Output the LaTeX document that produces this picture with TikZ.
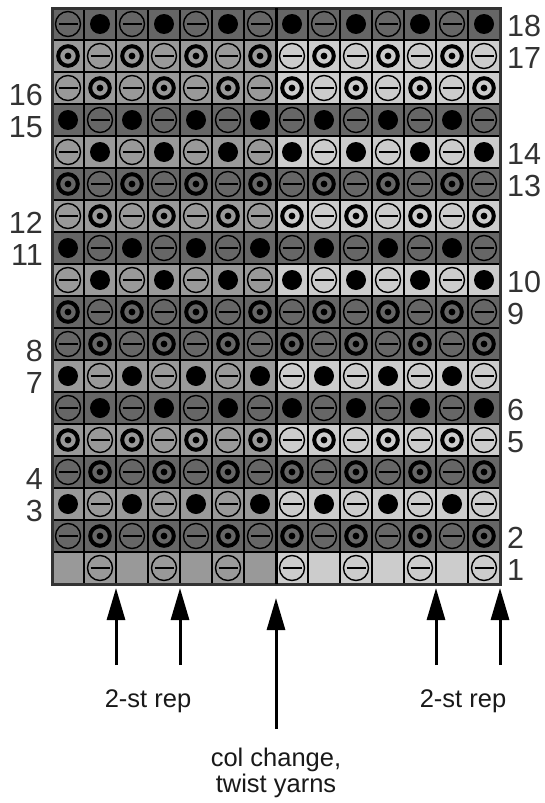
\documentclass[tikz,border=0pt]{standalone}
\usepackage{fontspec}
\setmainfont{Liberation Sans}
\usetikzlibrary{arrows.meta}
\definecolor{dk}{HTML}{666666}
\definecolor{md}{HTML}{999999}
\definecolor{lt}{HTML}{CCCCCC}
\definecolor{lbl}{HTML}{333333}
\newcommand\kmsymm[2]{\draw[line width=1.4pt] (#1,#2) circle[radius=12.5pt]; \draw[line width=1.4pt] (#1-9.5,#2) -- (#1+9.5,#2);}
\newcommand\kmsymd[2]{\fill[black] (#1,#2) circle[radius=10pt];}
\newcommand\kmsymb[2]{\draw[line width=4pt] (#1,#2) circle[radius=9.8pt]; \fill[black] (#1,#2) circle[radius=3.4pt];}
\newcommand\kmsyme[2]{}
\tikzset{
  lblL/.style={anchor=east, inner sep=0pt, text=lbl, font=\fontsize{30.5}{32}\selectfont},
  lblR/.style={anchor=west, inner sep=0pt, text=lbl, font=\fontsize{30.5}{32}\selectfont},
  note/.style={anchor=base, inner sep=0pt, text=black!90, font=\fontsize{25.5}{27}\selectfont},
  arr/.style={line width=3pt, -{Triangle[length=32pt,width=18pt]}}
}
\begin{document}
\begin{tikzpicture}[x=1pt,y=-1pt]
\useasboundingbox (0,0) rectangle (544,803);
\fill[white] (0,0) rectangle (544,803);
% cells
\foreach \r/\A/\B/\L/\R in {18/m/d/dk/dk,17/b/m/md/lt,16/m/b/md/lt,15/d/m/dk/dk,14/m/d/md/lt,13/b/m/dk/dk,12/m/b/md/lt,11/d/m/dk/dk,10/m/d/md/lt,9/b/m/dk/dk,8/m/b/dk/dk,7/d/m/md/lt,6/m/d/dk/dk,5/b/m/md/lt,4/m/b/dk/dk,3/d/m/md/lt,2/m/b/dk/dk,1/e/m/md/lt}{
  \foreach \c in {1,...,14}{
    \pgfmathsetmacro\xx{52+(\c-1)*32}
    \pgfmathsetmacro\yy{8+(18-\r)*32}
    \ifnum\c<8 \edef\col{\L}\else\edef\col{\R}\fi
    \fill[\col] (\xx,\yy) rectangle ++(32,32);
  }
}
% grid lines
\foreach \i in {1,...,13}{\draw[line width=1.5pt] (52+\i*32,8) -- (52+\i*32,584);}
\foreach \j in {1,...,17}{\draw[line width=1.5pt] (52,8+\j*32) -- (500,8+\j*32);}
% symbols
\foreach \r/\A/\B in {18/m/d,17/b/m,16/m/b,15/d/m,14/m/d,13/b/m,12/m/b,11/d/m,10/m/d,9/b/m,8/m/b,7/d/m,6/m/d,5/b/m,4/m/b,3/d/m,2/m/b,1/e/m}{
  \foreach \c in {1,...,14}{
    \pgfmathsetmacro\xx{52+(\c-1)*32+16}
    \pgfmathsetmacro\yy{8+(18-\r)*32+16}
    \ifodd\c \edef\s{\A}\else\edef\s{\B}\fi
    \csname kmsym\s\endcsname{\xx}{\yy}
  }
}
% border and centre line
\draw[line width=3pt, lbl] (52,8) rectangle (500,584);
\draw[line width=3pt, black] (276,8) -- (276,584);
% row labels
\node[lblR] (r18) at (507,26) {18};
\node[lblR] (r17) at (507,58) {17};
\node[lblR] (r14) at (507,154) {14};
\node[lblR] (r13) at (507,186) {13};
\node[lblR] (r10) at (507,282) {10};
\node[lblR] (r9) at (507,314) {9};
\node[lblR] (r6) at (507,410) {6};
\node[lblR] (r5) at (507,442) {5};
\node[lblR] (r2) at (507,538) {2};
\node[lblR] (r1) at (507,570) {1};
\node[lblL] (l16) at (43,95) {16};
\node[lblL] (l15) at (43,127) {15};
\node[lblL] (l12) at (43,223) {12};
\node[lblL] (l11) at (43,255) {11};
\node[lblL] (l8) at (43,351) {8};
\node[lblL] (l7) at (43,383) {7};
\node[lblL] (l4) at (43,479) {4};
\node[lblL] (l3) at (43,511) {3};
% arrows
\coordinate (a1s) at (116,665); \coordinate (a1e) at (116,588);
\coordinate (a2s) at (180,665); \coordinate (a2e) at (180,588);
\coordinate (a3s) at (276,729); \coordinate (a3e) at (276,598);
\coordinate (a4s) at (436,665); \coordinate (a4e) at (436,588);
\coordinate (a5s) at (500,665); \coordinate (a5e) at (500,588);
\draw[arr] (a1s) -- (a1e);
\draw[arr] (a2s) -- (a2e);
\draw[arr] (a3s) -- (a3e);
\draw[arr] (a4s) -- (a4e);
\draw[arr] (a5s) -- (a5e);
% notes
\node[note] (repL) at (148,707) {2-st rep};
\node[note] (repR) at (463,707) {2-st rep};
\node[note] (cc1) at (276,766) {col change,};
\node[note] (cc2) at (276,792) {twist yarns};
\end{tikzpicture}
\end{document}
